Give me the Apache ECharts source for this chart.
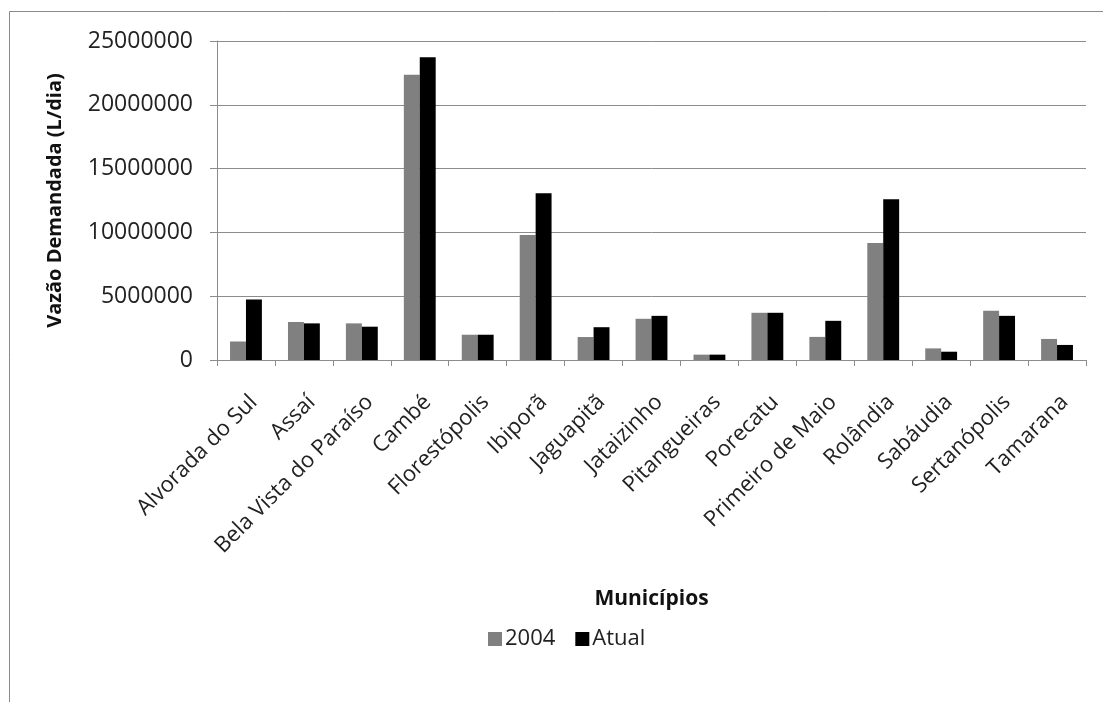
<!DOCTYPE html>
<html>
<head>
<meta charset="utf-8">
<script src="https://cdn.jsdelivr.net/npm/echarts@6/dist/echarts.min.js"></script>
<style>
  html, body { margin: 0; padding: 0; background: #fff; }
  #chart { width: 1103px; height: 702px; }
</style>
</head>
<body>
<div id="chart"></div>
<script>
// Municípios e vazão demandada (L/dia)
const municipios = [
  'Alvorada do Sul', 'Assaí', 'Bela Vista do Paraíso', 'Cambé', 'Florestópolis',
  'Ibiporã', 'Jaguapitã', 'Jataizinho', 'Pitangueiras', 'Porecatu',
  'Primeiro de Maio', 'Rolândia', 'Sabáudia', 'Sertanópolis', 'Tamarana'
];
const vazao2004 = [
  1450000, 2980000, 2870000, 22350000, 1980000,
  9790000, 1800000, 3230000, 420000, 3700000,
  1810000, 9160000, 910000, 3860000, 1650000
];
const vazaoAtual = [
  4750000, 2870000, 2610000, 23720000, 1980000,
  13070000, 2570000, 3460000, 420000, 3700000,
  3070000, 12600000, 650000, 3460000, 1180000
];
const yMin = 0, yMax = 25000000, yStep = 5000000;

const font = 'Open Sans';
const chart = echarts.init(document.getElementById('chart'), null, { renderer: 'canvas' });

chart.setOption({
  backgroundColor: '#fff',
  animation: false,
  graphic: [{
    type: 'rect',
    shape: { x: 9.5, y: 11.5, width: 1200, height: 800 },
    style: { fill: 'none', stroke: '#8a8a8a', lineWidth: 1 },
    silent: true
  }],
  grid: { left: 217, right: 17, top: 41, bottom: 342, containLabel: false },
  legend: {
    bottom: 47,
    left: 483,
    itemWidth: 14,
    itemHeight: 14,
    itemGap: 20,
    icon: 'rect',
    textStyle: { fontFamily: font, fontSize: 22, color: '#222', padding: [0, 0, 0, -2] },
    data: ['2004', 'Atual']
  },
  xAxis: {
    type: 'category',
    data: municipios,
    name: 'Municípios',
    nameLocation: 'middle',
    nameGap: 229,
    nameTextStyle: { fontFamily: font, fontSize: 21, fontWeight: 'bold', color: '#111' },
    axisLine: { lineStyle: { color: '#8c8c8c', width: 1 } },
    axisTick: { show: true, alignWithLabel: false, length: 6, lineStyle: { color: '#8c8c8c' } },
    axisLabel: {
      rotate: 45,
      interval: 0,
      margin: 31,
      verticalAlign: 'top',
      fontFamily: font,
      fontSize: 22,
      color: '#222',
      formatter: v => v
    }
  },
  yAxis: {
    type: 'value',
    min: yMin,
    max: yMax,
    interval: yStep,
    name: 'Vazão Demandada (L/dia)',
    nameLocation: 'middle',
    nameGap: 152,
    nameTextStyle: { fontFamily: font, fontSize: 20, fontWeight: 'bold', color: '#111' },
    axisLine: { show: true, lineStyle: { color: '#8c8c8c', width: 1 } },
    axisTick: { show: true, length: 7, lineStyle: { color: '#8c8c8c' } },
    axisLabel: {
      margin: 24,
      fontFamily: font,
      fontSize: 23,
      color: '#222',
      formatter: v => String(v)
    },
    splitLine: { lineStyle: { color: '#8c8c8c', width: 1 } }
  },
  series: [
    {
      name: '2004',
      type: 'bar',
      data: vazao2004,
      barGap: '0%',
      barCategoryGap: '45%',
      itemStyle: { color: '#808080' }
    },
    {
      name: 'Atual',
      type: 'bar',
      data: vazaoAtual,
      barGap: '0%',
      barCategoryGap: '45%',
      itemStyle: { color: '#000000' }
    }
  ]
});
</script>
</body>
</html>
